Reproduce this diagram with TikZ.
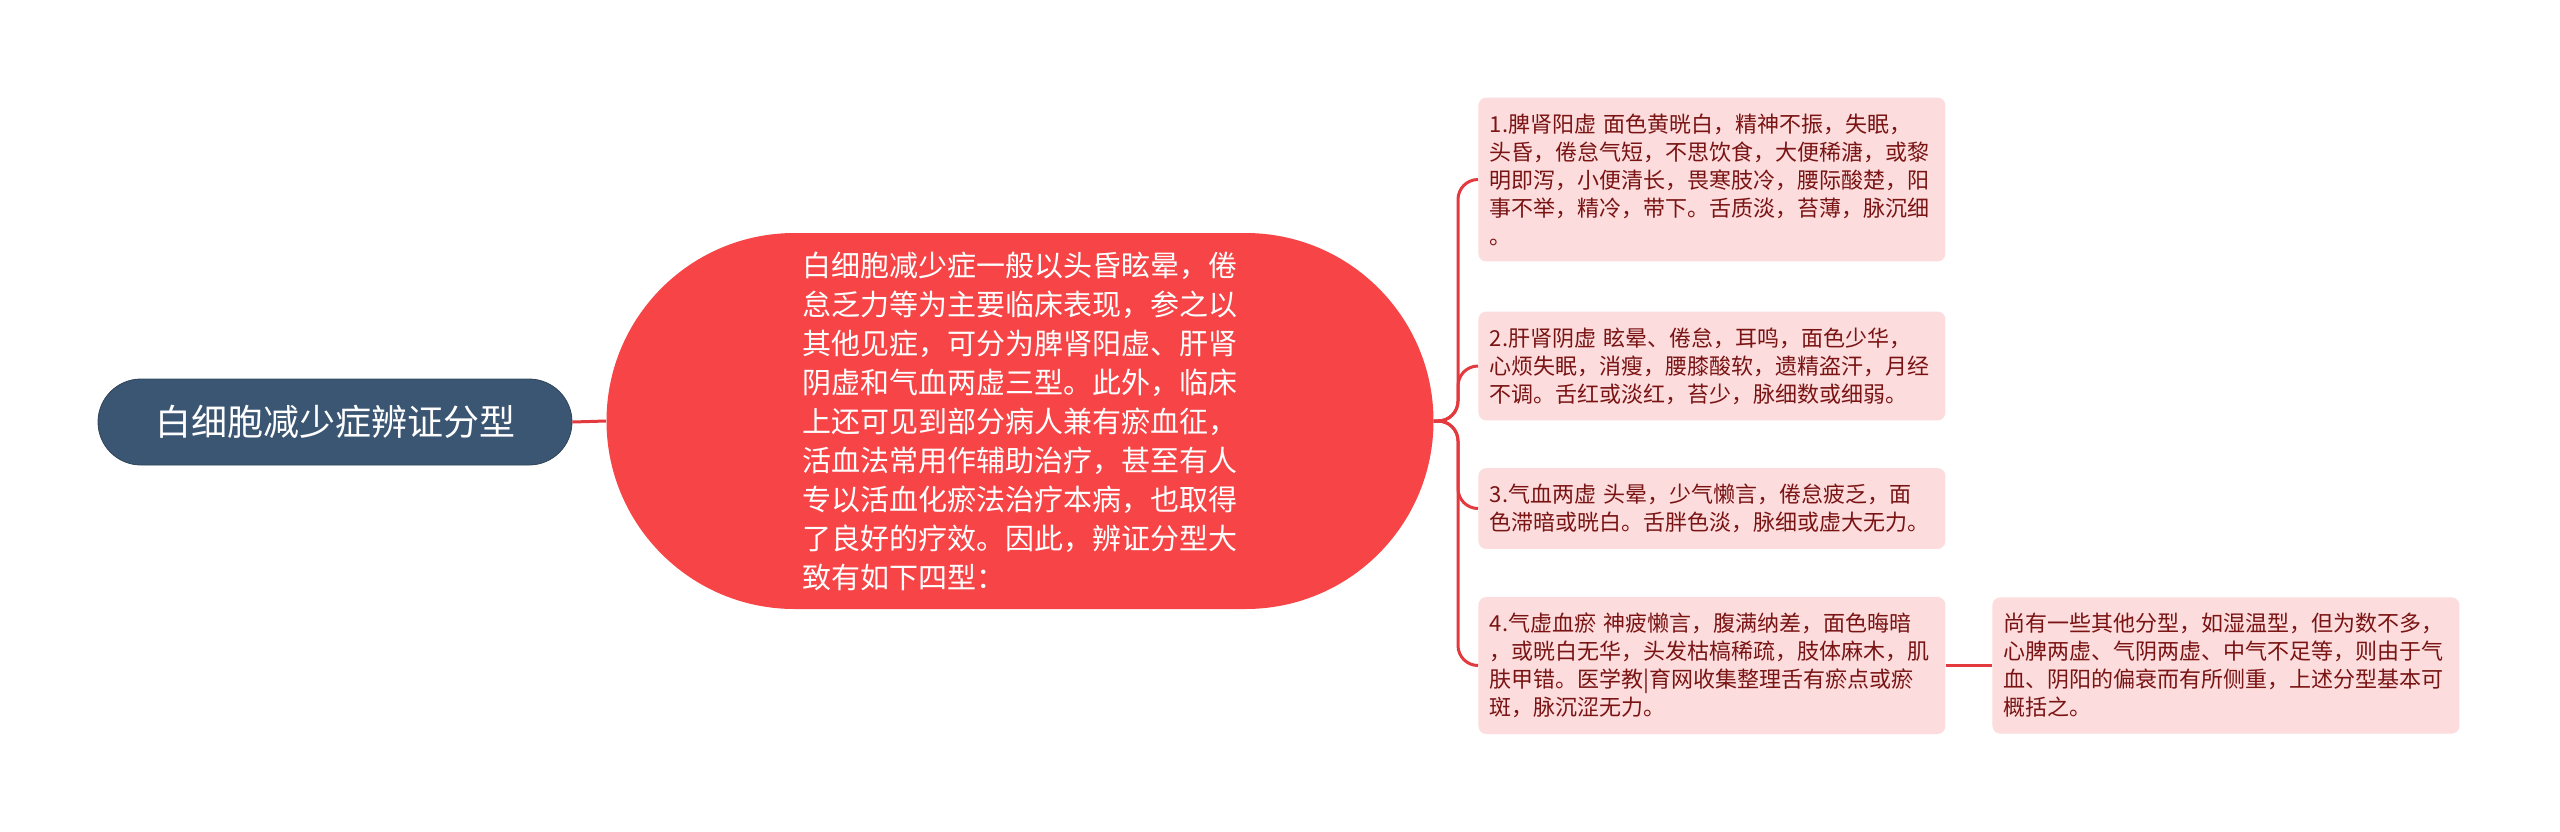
\documentclass[tikz,border=0pt]{standalone}
\usepackage{fontspec}
\setmainfont{Noto Sans CJK SC}
\usetikzlibrary{shapes.misc}
\definecolor{rootblue}{HTML}{3B5672}
\definecolor{mainred}{HTML}{F74446}
\definecolor{linkred}{HTML}{E23A3E}
\definecolor{leafpink}{HTML}{FCDCDC}
\definecolor{leaftext}{HTML}{7A1414}
\tikzset{
  rootnode/.style={rounded rectangle, fill=rootblue, draw=rootblue!80!black, line width=0.4pt,
    text=white, font=\fontsize{18}{22}\selectfont, minimum width=237pt, minimum height=43pt, inner sep=0pt},
  mainnode/.style={rounded rectangle, fill=mainred, text=white, font=\fontsize{14.5}{19.5}\selectfont,
    align=left, minimum width=413.5pt, minimum height=188pt, inner sep=0pt},
  leaf/.style={rectangle, rounded corners=4pt, fill=leafpink, text=leaftext, font=\fontsize{11}{14}\selectfont,
    text width=222pt, align=left, inner xsep=5.75pt, inner ysep=8pt, anchor=west},
  link/.style={draw=linkred, line width=1.5pt, rounded corners=10pt}
}
\begin{document}
\begin{tikzpicture}[x=0.5pt,y=-0.5pt]
    \useasboundingbox (0,0) rectangle (2560,831);
    \node[rootnode] (root) at (335,422) {白细胞减少症辨证分型};
    \node[mainnode] (main) at (1020,421) {白细胞减少症一般以头昏眩晕，倦\\怠乏力等为主要临床表现，参之以\\其他见症，可分为脾肾阳虚、肝肾\\阴虚和气血两虚三型。此外，临床\\上还可见到部分病人兼有瘀血征，\\活血法常用作辅助治疗，甚至有人\\专以活血化瘀法治疗本病，也取得\\了良好的疗效。因此，辨证分型大\\致有如下四型：};
    \node[leaf] (yang) at (1478,179.5) {1.脾肾阳虚 面色黄晄白，精神不振，失眠，\\头昏，倦怠气短，不思饮食，大便稀溏，或黎\\明即泻，小便清长，畏寒肢冷，腰际酸楚，阳\\事不举，精冷，带下。舌质淡，苔薄，脉沉细\\。};
    \node[leaf] (yin) at (1478,366) {2.肝肾阴虚 眩晕、倦怠，耳鸣，面色少华，\\心烦失眠，消瘦，腰膝酸软，遗精盗汗，月经\\不调。舌红或淡红，苔少，脉细数或细弱。};
    \node[leaf] (qixue) at (1478,508.5) {3.气血两虚 头晕，少气懒言，倦怠疲乏，面\\色滞暗或晄白。舌胖色淡，脉细或虚大无力。};
    \node[leaf] (xueyu) at (1478,665.5) {4.气虚血瘀 神疲懒言，腹满纳差，面色晦暗\\，或晄白无华，头发枯槁稀疏，肢体麻木，肌\\肤甲错。医学教|育网收集整理舌有瘀点或瘀\\斑，脉沉涩无力。};
    \node[leaf] (other) at (1992,665.5) {尚有一些其他分型，如湿温型，但为数不多，\\心脾两虚、气阴两虚、中气不足等，则由于气\\血、阴阳的偏衰而有所侧重，上述分型基本可\\概括之。};
    \coordinate (hub) at (1458,421);
    \draw[link] (root.east) -- (main.west);
    \draw[link] (main.east) -- (hub) |- (yang.west);
    \draw[link] (main.east) -- (hub) |- (yin.west);
    \draw[link] (main.east) -- (hub) |- (qixue.west);
    \draw[link] (main.east) -- (hub) |- (xueyu.west);
    \draw[link] (xueyu.east) -- (other.west);
\end{tikzpicture}
\end{document}
